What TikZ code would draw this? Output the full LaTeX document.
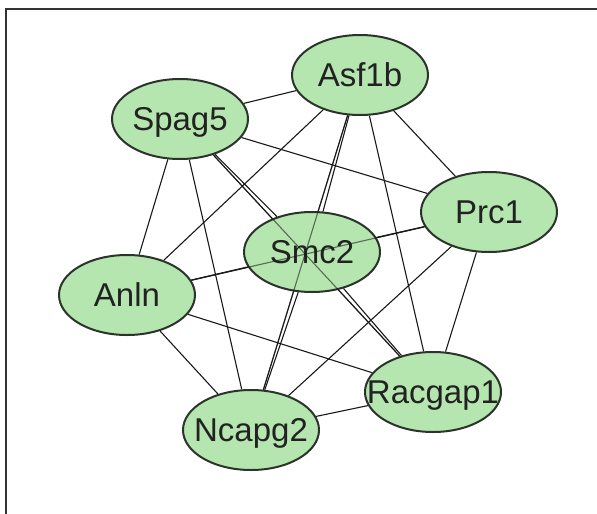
\documentclass[tikz,border=0pt]{standalone}
\usepackage{fontspec}
\setmainfont{Liberation Sans}
\usetikzlibrary{shapes.geometric}
\pgfdeclarelayer{bg}
\pgfsetlayers{bg,main}
\definecolor{nodefill}{HTML}{B5E6AF}
\definecolor{nodeline}{HTML}{2B332B}
\definecolor{txt}{HTML}{222222}
\definecolor{framec}{HTML}{333333}
\begin{document}
\begin{tikzpicture}[x=1pt,y=-1pt,
  gene/.style={ellipse, draw=nodeline, line width=2pt, fill=nodefill,
    minimum width=136pt, minimum height=80pt, inner sep=0pt},
  gtext/.style={font=\fontsize{33}{36}\selectfont, text=txt,
    text height=23.6pt, text depth=0pt, inner sep=0pt},
  link/.style={line width=1.1pt, draw=black!90},
  framestyle/.style={line width=1.2pt, draw=framec}]
\useasboundingbox (0,0) rectangle (597,514);
\draw[framestyle] (6,514) -- (6,9) -- (597,9);

\node[gene, label={[gtext]center:Asf1b}]   (A) at (360,75)  {};
\node[gene, label={[gtext]center:Spag5}]   (S) at (180,119) {};
\node[gene, label={[gtext]center:Prc1}]    (P) at (489,212) {};
\node[gene, label={[gtext]center:Smc2}]    (M) at (312,252) {};
\node[gene, label={[gtext]center:Anln}]    (L) at (127,295) {};
\node[gene, label={[gtext]center:Racgap1}] (R) at (433,392) {};
\node[gene, label={[gtext]center:Ncapg2}]  (N) at (251,430) {};

\begin{pgfonlayer}{bg}
\foreach \a/\b in {S/A, S/P, S/R, S/N, S/L, S/M,
                   A/M, A/N, A/R, A/P, A/L,
                   L/M, L/P, L/N, L/R,
                   M/P, M/R, M/N,
                   P/N, P/R, N/R}
  \draw[link] (\a) -- (\b);
\end{pgfonlayer}
% edges seen through the Smc2 node
\draw[link, opacity=0.6] (S) -- (R);
\draw[link, opacity=0.6] (A) -- (N);
\draw[link, opacity=0.6] (L) -- (P);
\end{tikzpicture}
\end{document}
